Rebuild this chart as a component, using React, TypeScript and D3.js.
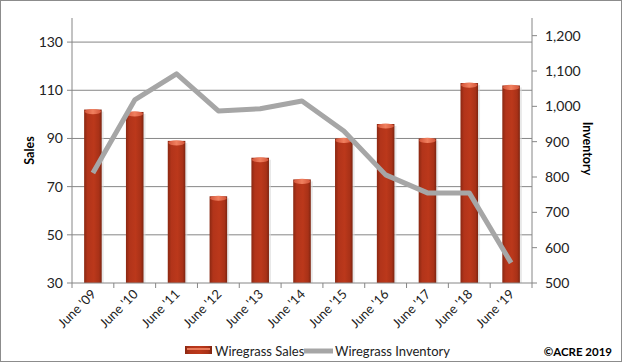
import React from 'react'
import * as d3 from 'd3'

const categories = ["June '09", "June '10", "June '11", "June '12", "June '13", "June '14", "June '15", "June '16", "June '17", "June '18", "June '19"]
const sales = [102, 101, 89, 66, 82, 73, 90, 96, 90, 113, 112]
const inventory = [811, 1018, 1092, 987, 993, 1015, 930, 806, 755, 755, 557]
const salesTicks = [30, 50, 70, 90, 110, 130]
const inventoryTicks = [500, 600, 700, 800, 900, 1000, 1100, 1200]

const W = 623
const H = 363
const margin = { top: 18, right: 91, bottom: 80, left: 72 }
const font = "Lato, Open Sans, sans-serif"
const axisColor = '#868686'

export default function App() {
  const x0 = margin.left
  const x1 = W - margin.right
  const y1 = H - margin.bottom

  const x = d3.scaleBand<string>().domain(categories).range([x0, x1]).paddingInner(0.58).paddingOuter(0.29)
  const band = d3.scaleBand<string>().domain(categories).range([x0, x1])
  const ySales = d3.scaleLinear().domain([30, 140]).range([y1, margin.top])
  const yInv = d3.scaleLinear().domain([500, 1250]).range([y1, margin.top])

  const line = d3.line<number>()
    .x((_, i) => (band(categories[i]) as number) + band.bandwidth() / 2)
    .y(d => yInv(d))

  const bw = x.bandwidth()

  return (
    <svg width={W} height={H} style={{ position: 'absolute', left: 0, top: 0, background: '#fff' }} fontFamily={font}>
      <defs>
        <linearGradient id="barGrad" x1="0" x2="1" y1="0" y2="0">
          <stop offset="0" stopColor="#8a2812" />
          <stop offset="0.2" stopColor="#b2341a" />
          <stop offset="0.55" stopColor="#bb381b" />
          <stop offset="0.85" stopColor="#a83117" />
          <stop offset="1" stopColor="#7c2410" />
        </linearGradient>
        <linearGradient id="topGrad" x1="0" x2="1" y1="0" y2="0">
          <stop offset="0" stopColor="#d4553a" />
          <stop offset="0.5" stopColor="#f0805f" />
          <stop offset="1" stopColor="#d4553a" />
        </linearGradient>
      </defs>
      <rect x={0.5} y={0.5} width={W - 2} height={H - 2} fill="#fff" stroke="#8c8c8c" />

      {/* gridlines */}
      {salesTicks.slice(1).map(t => (
        <line key={t} x1={x0} x2={x1} y1={ySales(t)} y2={ySales(t)} stroke={axisColor} strokeWidth={1} />
      ))}

      {/* bars */}
      {sales.map((v, i) => {
        const bx = x(categories[i]) as number
        const by = ySales(v)
        return (
          <g key={i}>
            <rect x={bx + 2} y={by + 2} width={bw} height={y1 - by - 2} fill="#d9d9d9" opacity={0.6} />
            <rect x={bx} y={by} width={bw} height={y1 - by} fill="url(#barGrad)" />
            <ellipse cx={bx + bw / 2} cy={by + 2} rx={bw / 2 - 0.5} ry={2.6} fill="url(#topGrad)" />
          </g>
        )
      })}

      {/* inventory line */}
      <path d={line(inventory) as string} fill="none" stroke="#a6a6a6" strokeWidth={5} strokeLinejoin="round" />

      {/* left axis */}
      <line x1={x0} x2={x0} y1={margin.top} y2={y1} stroke={axisColor} />
      {salesTicks.map(t => (
        <g key={t}>
          <line x1={x0 - 5} x2={x0} y1={ySales(t)} y2={ySales(t)} stroke={axisColor} />
          <text x={x0 - 9} y={ySales(t)} dy="0.35em" textAnchor="end" fontSize={14} fill="#222">{t}</text>
        </g>
      ))}

      {/* right axis */}
      <line x1={x1} x2={x1} y1={margin.top} y2={y1} stroke={axisColor} />
      {inventoryTicks.map(t => (
        <g key={t}>
          <line x1={x1} x2={x1 + 5} y1={yInv(t)} y2={yInv(t)} stroke={axisColor} />
          <text x={x1 + 13} y={yInv(t)} dy="0.35em" textAnchor="start" fontSize={14} fill="#222">{d3.format(',')(t)}</text>
        </g>
      ))}

      {/* bottom axis */}
      <line x1={x0} x2={x1} y1={y1} y2={y1} stroke={axisColor} />
      {categories.map(c => (
        <line key={c} x1={band(c) as number} x2={band(c) as number} y1={y1} y2={y1 + 5} stroke={axisColor} />
      ))}
      <line x1={x1} x2={x1} y1={y1} y2={y1 + 5} stroke={axisColor} />
      {categories.map(c => {
        const cx = (band(c) as number) + band.bandwidth() / 2 + 4
        const cy = y1 + 12
        return (
          <text key={c} transform={`translate(${cx},${cy}) rotate(-45)`} textAnchor="end" fontSize={13} fill="#222">{c}</text>
        )
      })}

      {/* axis titles */}
      <text transform={`translate(34,${(margin.top + y1) / 2}) rotate(-90)`} textAnchor="middle" fontSize={12.5} fontWeight="bold" fill="#000">Sales</text>
      <text transform={`translate(583,${(margin.top + y1) / 2 - 2}) rotate(90)`} textAnchor="middle" fontSize={12.5} fontWeight="bold" fill="#000">Inventory</text>

      {/* legend */}
      <rect x={185} y={346} width={27} height={8} fill="url(#barGrad)" />
      <rect x={187} y={348} width={23} height={2} fill="#e87a5a" />
      <text x={215} y={351} dy="0.35em" fontSize={13} fill="#222">Wiregrass Sales</text>
      <line x1={304} x2={333} y1={351} y2={351} stroke="#a6a6a6" strokeWidth={5} />
      <text x={335} y={351} dy="0.35em" fontSize={13} fill="#222">Wiregrass Inventory</text>

      <text x={612} y={352} dy="0.35em" textAnchor="end" fontSize={11.5} fontWeight="bold" fill="#000">©ACRE 2019</text>
    </svg>
  )
}
